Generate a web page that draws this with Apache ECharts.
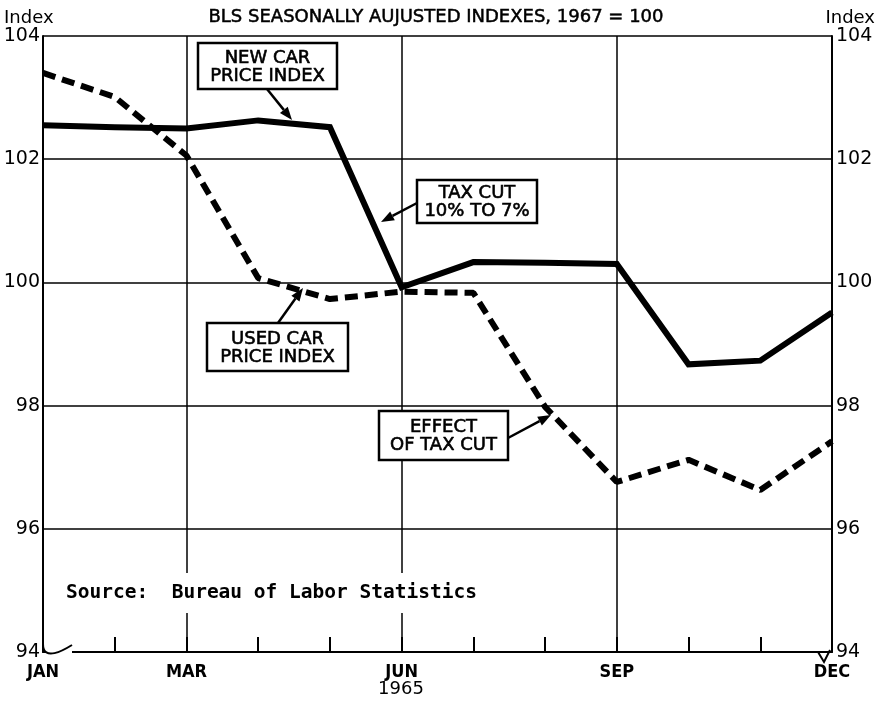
<!DOCTYPE html>
<html>
<head>
<meta charset="utf-8">
<script src="https://cdn.jsdelivr.net/npm/echarts@6/dist/echarts.min.js"></script>
<style>
html, body { margin: 0; padding: 0; background: #fff; }
#chart { width: 876px; height: 703px; }
</style>
</head>
<body>
<div id="chart"></div>
<script>
// months of 1965, only some are labelled on the axis
var months = ['JAN', 'FEB', 'MAR', 'APR', 'MAY', 'JUN', 'JUL', 'AUG', 'SEP', 'OCT', 'NOV', 'DEC'];
var shownMonths = ['JAN', 'MAR', 'JUN', 'SEP', 'DEC'];
var gridMonths = ['MAR', 'JUN', 'SEP'];

// BLS seasonally adjusted indexes, 1967 = 100
var newCar = [102.55, 102.52, 102.50, 102.63, 102.52, 99.92, 100.33, 100.32, 100.30, 98.67, 98.73, 99.51];
var usedCar = [103.40, 103.01, 102.06, 100.07, 99.73, 99.85, 99.83, 97.98, 96.76, 97.12, 96.63, 97.42];

var yMin = 94, yMax = 104, yStep = 2;

var FONT = '"DejaVu Sans", sans-serif';
var COND = '"DejaVu Sans Condensed", "DejaVu Sans", sans-serif';
var MONO = '"DejaVu Sans Mono", "Liberation Mono", monospace';

var chart = echarts.init(document.getElementById('chart'));

// little arrow: a line plus a filled head at the end
function arrow(x1, y1, x2, y2) {
  var a = Math.atan2(y2 - y1, x2 - x1);
  var len = 13, w = 5;
  var bx = x2 - len * Math.cos(a), by = y2 - len * Math.sin(a);
  return [
    {
      type: 'line', z: 100,
      shape: { x1: x1, y1: y1, x2: bx, y2: by },
      style: { stroke: '#000', lineWidth: 2.5 }
    },
    {
      type: 'polygon', z: 100,
      shape: {
        points: [
          [x2, y2],
          [bx + w * Math.sin(a), by - w * Math.cos(a)],
          [bx - w * Math.sin(a), by + w * Math.cos(a)]
        ]
      },
      style: { fill: '#000' }
    }
  ];
}

function labelBox(x, y, w, h, text) {
  return [
    {
      type: 'rect', z: 100,
      shape: { x: x, y: y, width: w, height: h },
      style: { fill: '#fff', stroke: '#000', lineWidth: 2.5 }
    },
    {
      type: 'text', z: 101,
      x: x + w / 2, y: y + h / 2 + 1,
      style: {
        text: text, font: '18px ' + FONT, fill: '#000', stroke: '#000', lineWidth: 0.6,
        align: 'center', verticalAlign: 'middle', lineHeight: 18
      }
    }
  ];
}

var graphics = [];
graphics.push({
  type: 'text', x: 436, y: 17,
  style: { text: 'BLS SEASONALLY AUJUSTED INDEXES, 1967 = 100', font: '18px ' + FONT, fill: '#000', stroke: '#000', lineWidth: 0.5, align: 'center', verticalAlign: 'middle' }
});
graphics.push({
  type: 'text', x: 4, y: 18,
  style: { text: 'Index', font: '18px ' + FONT, fill: '#000', align: 'left', verticalAlign: 'middle' }
});
graphics.push({
  type: 'text', x: 875, y: 18,
  style: { text: 'Index', font: '18px ' + FONT, fill: '#000', align: 'right', verticalAlign: 'middle' }
});
graphics.push({
  type: 'text', x: 401, y: 689,
  style: { text: '1965', font: '18px ' + FONT, fill: '#000', align: 'center', verticalAlign: 'middle' }
});
// source note, its white box breaks the MAR and JUN grid lines
graphics.push({
  type: 'text', x: 62, y: 593, z: 100,
  style: {
    text: 'Source:  Bureau of Labor Statistics', font: 'bold 19.5px ' + MONO, fill: '#000',
    align: 'left', verticalAlign: 'middle', backgroundColor: '#fff', padding: [10, 4, 10, 4]
  }
});
graphics = graphics.concat(labelBox(198, 43, 139, 46, 'NEW CAR\nPRICE INDEX'));
graphics = graphics.concat(arrow(267, 89, 292, 120));
graphics = graphics.concat(labelBox(417, 180, 120, 43, 'TAX CUT\n10% TO 7%'));
graphics = graphics.concat(arrow(417, 203, 381, 222));
graphics = graphics.concat(labelBox(207, 323, 141, 48, 'USED CAR\nPRICE INDEX'));
graphics = graphics.concat(arrow(278, 323, 303, 288));
graphics = graphics.concat(labelBox(379, 411, 129, 49, 'EFFECT\nOF TAX CUT'));
graphics = graphics.concat(arrow(508, 438, 551, 415));
// axis break marks at both ends
graphics.push({
  type: 'bezierCurve', z: 100,
  shape: { x1: 43, y1: 644, cpx1: 43, cpy1: 662, cpx2: 64, cpy2: 650, x2: 72, y2: 645 },
  style: { stroke: '#000', lineWidth: 2, fill: null }
});
graphics.push({
  type: 'rect', z: 99,
  shape: { x: 46, y: 650, width: 26, height: 4 },
  style: { fill: '#fff' }
});
graphics.push({
  type: 'polyline', z: 100,
  shape: { points: [[806, 652], [818, 652], [824, 662], [830, 650]] },
  style: { stroke: '#000', lineWidth: 2, fill: null }
});

chart.setOption({
  backgroundColor: '#fff',
  animation: false,
  grid: { left: 43, right: 44, top: 36, bottom: 51 },
  graphic: graphics,
  xAxis: {
    type: 'category',
    data: months,
    boundaryGap: false,
    axisLine: { lineStyle: { color: '#000', width: 2 } },
    axisTick: { inside: true, length: 15, interval: 0, lineStyle: { color: '#000', width: 2 } },
    axisLabel: {
      interval: 0, margin: 11, color: '#000',
      fontFamily: COND, fontSize: 18, fontWeight: 'bold',
      formatter: function (v) { return shownMonths.indexOf(v) >= 0 ? v : ''; }
    },
    splitLine: { show: false }
  },
  yAxis: [
    {
      type: 'value', min: yMin, max: yMax, interval: yStep, position: 'left',
      axisLine: { show: true, lineStyle: { color: '#000', width: 2 } },
      axisTick: { show: false },
      axisLabel: { margin: 3, color: '#000', fontFamily: FONT, fontSize: 19 },
      splitLine: { show: true, lineStyle: { color: '#000', width: 1.5 } }
    },
    {
      type: 'value', min: yMin, max: yMax, interval: yStep, position: 'right',
      axisLine: { show: true, lineStyle: { color: '#000', width: 2 } },
      axisTick: { show: false },
      axisLabel: { margin: 4, color: '#000', fontFamily: FONT, fontSize: 19 },
      splitLine: { show: false }
    }
  ],
  series: [
    {
      name: 'New car price index',
      type: 'line',
      data: newCar,
      symbol: 'none',
      lineStyle: { color: '#000', width: 6, join: 'miter' },
      z: 5,
      markLine: {
        silent: true,
        symbol: 'none',
        label: { show: false },
        lineStyle: { color: '#000', width: 1.5, type: 'solid' },
        data: gridMonths.map(function (m) { return { xAxis: m }; })
      }
    },
    {
      name: 'Used car price index',
      type: 'line',
      data: usedCar,
      symbol: 'none',
      lineStyle: { color: '#000', width: 6, type: [13, 7], cap: 'butt' },
      z: 4
    }
  ]
});
</script>
</body>
</html>
